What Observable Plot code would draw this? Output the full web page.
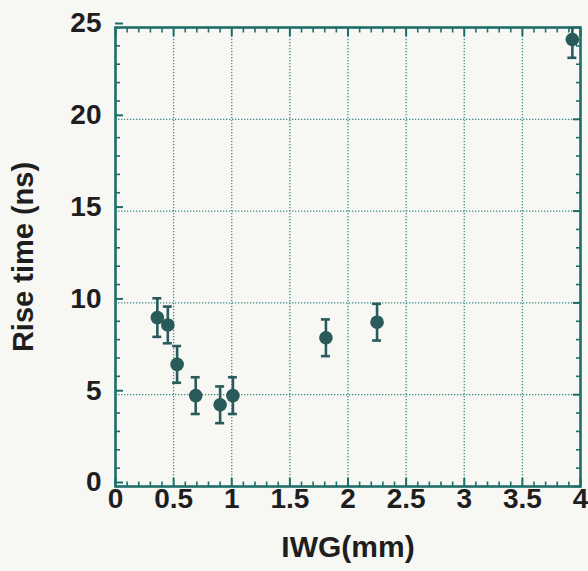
<!DOCTYPE html>
<html>
<head>
<meta charset="utf-8">
<script src="https://cdn.jsdelivr.net/npm/d3@7"></script>
<script src="https://cdn.jsdelivr.net/npm/@observablehq/plot@0.6"></script>
<style>
  html, body { margin: 0; padding: 0; background: #f7f7f4; }
  #chart { width: 588px; height: 571px; }
</style>
</head>
<body>
<div id="chart"></div>
<script>
// Data
const iwg = [0.36, 0.45, 0.53, 0.69, 0.90, 1.01, 1.81, 2.25, 3.93];
const riseTime = [9.2, 8.8, 6.65, 4.95, 4.45, 4.95, 8.1, 8.95, 24.35];
const riseErr = [1.05, 1.0, 1.0, 1.0, 1.0, 1.0, 1.0, 1.0, 1.0];

const xMajor = [0, 0.5, 1, 1.5, 2, 2.5, 3, 3.5, 4];
const xMinor = [0.1,0.2,0.3,0.4,0.6,0.7,0.8,0.9,1.1,1.2,1.3,1.4,1.6,1.7,1.8,1.9,2.1,2.2,2.3,2.4,2.6,2.7,2.8,2.9,3.1,3.2,3.3,3.4,3.6,3.7,3.8,3.9];
const yMajor = [0, 5, 10, 15, 20, 25];
const yMinor = [1,2,3,4,6,7,8,9,11,12,13,14,16,17,18,19,21,22,23,24];
const xGrid = [0.5, 1, 1.5, 2, 2.5, 3, 3.5];
const yGrid = [5, 10, 15, 20];
const xLabel = "IWG(mm)";
const yLabel = "Rise time (ns)";

const data = iwg.map((x, i) => ({x, y: riseTime[i], e: riseErr[i]}));

const frameColor = "#1d6d69";
const gridColor = "#3a8a86";
const dotColor = "#2b5a5b";
const textColor = "#1e1e1e";
const font = "'Liberation Sans', Arial, Helvetica, sans-serif";
const fmt = d => String(d);

const chart = Plot.plot({
  width: 588,
  height: 571,
  marginLeft: 115,
  marginRight: 8,
  marginTop: 27,
  marginBottom: 85,
  style: {background: "transparent", fontFamily: font, color: textColor},
  x: {domain: [0, 4], label: null},
  y: {domain: [0, 25], label: null},
  marks: [
    Plot.gridX(xGrid, {stroke: gridColor, strokeOpacity: 1, strokeWidth: 1.3, strokeDasharray: "1.3,1.7"}),
    Plot.gridY(yGrid, {stroke: gridColor, strokeOpacity: 1, strokeWidth: 1.3, strokeDasharray: "1.3,1.7"}),
    // minor ticks (inward)
    Plot.axisX({anchor: "bottom", ticks: xMinor, tickSize: -4.5, tickFormat: () => "", stroke: frameColor, strokeWidth: 1.6, label: null}),
    Plot.axisX({anchor: "top", ticks: xMinor, tickSize: -4.5, tickFormat: () => "", stroke: frameColor, strokeWidth: 1.6, label: null}),
    Plot.axisY({anchor: "left", ticks: yMinor, tickSize: -5, tickFormat: () => "", stroke: frameColor, strokeWidth: 1.6, label: null}),
    Plot.axisY({anchor: "right", ticks: yMinor, tickSize: -5, tickFormat: () => "", stroke: frameColor, strokeWidth: 1.6, label: null}),
    // major ticks
    Plot.axisX({anchor: "top", ticks: xMajor, tickSize: -8, tickFormat: () => "", stroke: frameColor, strokeWidth: 2, label: null}),
    Plot.axisY({anchor: "right", ticks: yMajor, tickSize: -8, tickFormat: () => "", stroke: frameColor, strokeWidth: 2, label: null}),
    Plot.axisX({anchor: "bottom", ticks: xMajor, tickSize: -8, tickPadding: 10, tickFormat: fmt, stroke: frameColor, strokeWidth: 2,
      fill: textColor, fontSize: 28, fontWeight: "bold", label: null}),
    Plot.axisY({anchor: "left", ticks: yMajor, tickSize: -8, tickPadding: 22, tickFormat: fmt, stroke: frameColor, strokeWidth: 2,
      fill: textColor, fontSize: 28, fontWeight: "bold", label: null, dy: -4}),
    Plot.frame({stroke: frameColor, strokeWidth: 2.6}),
    // error bars
    Plot.ruleX(data, {x: "x", y1: d => d.y - d.e, y2: d => d.y + d.e, stroke: dotColor, strokeWidth: 2.6, clip: true}),
    Plot.ruleY(data, {y: d => d.y + d.e, x1: "x", x2: "x", insetLeft: -4.5, insetRight: -4.5, stroke: dotColor, strokeWidth: 2.6, clip: true}),
    Plot.ruleY(data, {y: d => d.y - d.e, x1: "x", x2: "x", insetLeft: -4.5, insetRight: -4.5, stroke: dotColor, strokeWidth: 2.6, clip: true}),
    Plot.dot(data, {x: "x", y: "y", r: 6.8, fill: dotColor, stroke: "none"}),
    // axis titles
    Plot.text([xLabel], {text: d => d, frameAnchor: "bottom", textAnchor: "middle", dy: 70, fontSize: 30, fontWeight: "bold", fill: textColor}),
    Plot.text([yLabel], {text: d => d, frameAnchor: "left", textAnchor: "middle", dx: -92, rotate: -90, fontSize: 29, fontWeight: "bold", fill: textColor})
  ]
});
document.getElementById("chart").appendChild(chart);
</script>
</body>
</html>
